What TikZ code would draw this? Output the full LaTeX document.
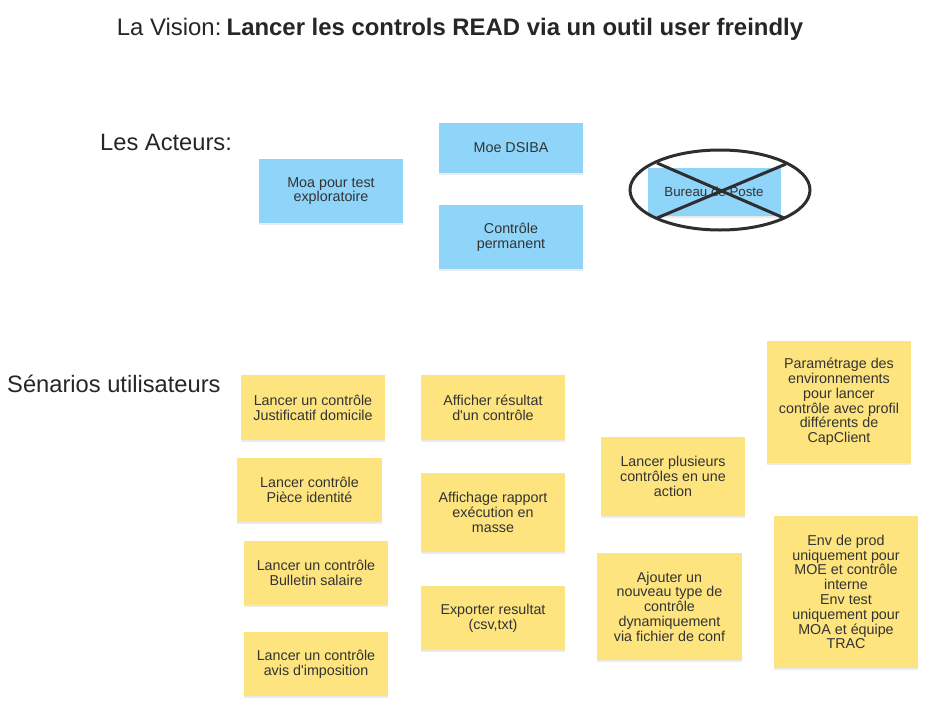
\documentclass[tikz,border=0pt]{standalone}
\usepackage{fontspec}
\setmainfont{Liberation Sans}[Ligatures=TeXOff]
\usetikzlibrary{shadows,shapes.geometric}
\definecolor{bluenote}{HTML}{8FD4F9}
\definecolor{yellownote}{HTML}{FDE47F}
\definecolor{txt}{HTML}{333333}
\definecolor{ink}{HTML}{262626}
\definecolor{crossink}{HTML}{2E2E2E}
\begin{document}
\begin{tikzpicture}[x=1pt,y=-1pt,
  note/.style={inner sep=0pt, align=center, text=txt,
    font=\fontsize{14.3}{14.8}\selectfont,
    drop shadow={shadow xshift=0pt, shadow yshift=-1.5pt, opacity=0.08, fill=black}},
  bnote/.style={note, fill=bluenote},
  ynote/.style={note, fill=yellownote},
  heading/.style={text=ink, font=\fontsize{23.7}{28}\selectfont, inner sep=0pt},
  crossline/.style={draw=crossink, line width=3pt}]
\useasboundingbox (0,0) rectangle (937,707);
\fill[white] (0,0) rectangle (937,707);

% headings
\node[heading, font=\fontsize{23.9}{28}\selectfont] (title) at (460,29)
  {La Vision:\hspace{0.22em}\textbf{Lancer les controls READ via un outil user freindly}};
\node[heading, anchor=west] (acteurs) at (100,142) {Les Acteurs:};
\node[heading, anchor=west] (scenarios) at (7,384) {Sénarios utilisateurs};

% actors
\node[bnote, minimum width=144, minimum height=64] (moa) at (331,191) {Moa pour test\\exploratoire};
\node[bnote, minimum width=144, minimum height=50] (moe) at (511,148) {Moe DSIBA};
\node[bnote, minimum width=144, minimum height=64] (cp) at (511,237) {Contrôle\\permanent};
\node[bnote, minimum width=133, minimum height=48, font=\fontsize{13.3}{14}\selectfont] (bdp) at (714,192) {Bureau de Poste};

% cross-out
\node[ellipse, draw=crossink, line width=3pt, minimum width=180, minimum height=80, inner sep=0pt] (oval) at (720,190) {};
\coordinate (xa) at (657,163);
\coordinate (xb) at (784,218);
\coordinate (xc) at (657,218);
\coordinate (xd) at (786,164);
\draw[crossline] (xa) -- (xb);
\draw[crossline] (xc) -- (xd);

% user scenarios
\node[ynote, minimum width=144, minimum height=65] (just) at (313,407.5) {Lancer un contrôle\\Justificatif domicile};
\node[ynote, minimum width=144, minimum height=65] (aff) at (493,407.5) {Afficher résultat\\d'un contrôle};
\node[ynote, minimum width=145, minimum height=64] (piece) at (309.5,490) {Lancer contrôle\\Pièce identité};
\node[ynote, minimum width=144, minimum height=79] (rapport) at (493,512.5) {Affichage rapport\\exécution en\\masse};
\node[ynote, minimum width=144, minimum height=64] (bull) at (316,573) {Lancer un contrôle\\Bulletin salaire};
\node[ynote, minimum width=144, minimum height=64] (export) at (493,618) {Exporter resultat\\(csv,txt)};
\node[ynote, minimum width=144, minimum height=64] (avis) at (316,664) {Lancer un contrôle\\avis d'imposition};
\node[ynote, minimum width=144, minimum height=79] (plus) at (673,476.5) {Lancer plusieurs\\contrôles en une\\action};
\node[ynote, minimum width=144, minimum height=122] (param) at (839,402) {Paramétrage des\\environnements\\pour lancer\\contrôle avec profil\\différents de\\CapClient};
\node[ynote, minimum width=145, minimum height=107] (ajout) at (669.5,606.5) {Ajouter un\\nouveau type de\\contrôle\\dynamiquement\\via fichier de conf};
\node[ynote, minimum width=144, minimum height=152] (env) at (846,592) {Env de prod\\uniquement pour\\MOE et contrôle\\interne\\Env test\\uniquement pour\\MOA et équipe\\TRAC};
\end{tikzpicture}
\end{document}
